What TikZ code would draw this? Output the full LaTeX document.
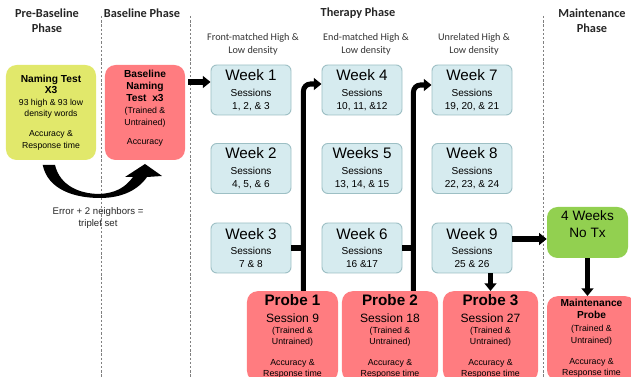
\documentclass[tikz,border=0pt]{standalone}
\usepackage{fontspec}
\setmainfont{Liberation Sans}
\newfontfamily\calfont{Carlito}
\usetikzlibrary{arrows.meta,calc}
\definecolor{weekfill}{HTML}{D6EBEF}
\definecolor{weekline}{HTML}{9DBFC4}
\definecolor{probefill}{HTML}{FF7C80}
\definecolor{namefill}{HTML}{E1E86B}
\definecolor{notxfill}{HTML}{92D050}
\begin{document}
\begin{tikzpicture}
        [x=0.03cm, y=-0.03cm,
        header/.style={font=\calfont\bfseries\fontsize{10.5}{12.7}\selectfont, align=center, text=black!85},
        sub/.style={font=\calfont\fontsize{8.7}{11}\selectfont, align=center, text=black!80},
        week/.style={draw=weekline, fill=weekfill, line width=0.8pt, rounded corners=5pt,
            minimum width=2.4cm, minimum height=1.5cm, inner sep=1pt, align=center,
            font=\fontsize{8.6}{11}\selectfont},
        probe/.style={fill=probefill, rounded corners=9pt, anchor=north, inner sep=2.5pt,
            align=center, font=\fontsize{7.5}{9.4}\selectfont},
        bigbox/.style={rounded corners=9pt, inner sep=2pt, align=center,
            font=\fontsize{7.4}{9.8}\selectfont},
        sep/.style={gray, line width=0.6pt, dash pattern=on 2pt off 1.6pt},
        link/.style={line width=4.3pt, black},
        arr/.style={line width=4.3pt, black, -{Triangle[length=6.5pt, width=10pt]}}]

        \clip (0,0) rectangle (631,377);

        % phase titles
        \node[header] (pre) at (47,20.5) {Pre-Baseline\\Phase};
        \node[header] (base) at (142,13) {Baseline Phase};
        \node[header] (ther) at (358,13) {Therapy Phase};
        \node[header] (main) at (592,20.5) {Maintenance\\Phase};

        \node[sub] (s1) at (253,44.5) {Front-matched High \&\\Low density};
        \node[sub] (s2) at (366,44.5) {End-matched High \&\\Low density};
        \node[sub] (s3) at (474,44.5) {Unrelated High \&\\Low density};

        % dotted separators
        \draw[sep] (101,16) -- (101,377);
        \draw[sep] (190,16) -- (190,377);
        \draw[sep] (543,16) -- (543,377);

        % pre-baseline and baseline
        \node[bigbox, fill=namefill, minimum width=2.7cm, minimum height=2.85cm] (nt) at (51,112.5)
            {{\bfseries\fontsize{8.7}{10}\selectfont Naming Test}\\{\bfseries\fontsize{8.7}{10}\selectfont X3}\\
             93 high \& 93 low\\density words\\[7.5pt]Accuracy \&\\Response time};
        \node[bigbox, fill=probefill, minimum width=2.4cm, minimum height=2.85cm, text depth=9pt,
            font=\fontsize{7.5}{10.2}\selectfont] (bl) at (145,112.5)
            {{\bfseries\fontsize{8.7}{10}\selectfont Baseline}\\{\bfseries\fontsize{8.7}{10}\selectfont Naming}\\
             {\bfseries\fontsize{8.7}{10}\selectfont Test\ \ x3}\\(Trained \&\\Untrained)\\[6pt]Accuracy};

        % curved arrow between them
        \fill[black] (42.7,165) .. controls (48,190) and (75,198) .. (100,198)
            .. controls (122,198) and (138,190) .. (147,177) -- (162,176) -- (145,164)
            -- (125,177) -- (133,177) .. controls (125,188) and (115,193) .. (100,194)
            .. controls (80,194) and (60,186) .. (55,165) -- cycle;
        \node[font=\fontsize{8.2}{10.2}\selectfont, align=center, text=black!85] (err) at (98,218)
            {Error + 2 neighbors =\\triplet set};

        % therapy weeks
        \node[week] (w1) at (251,90) {{\fontsize{13}{14}\selectfont Week 1}\\[2.6pt]Sessions\\1, 2, \& 3};
        \node[week] (w2) at (251,168.5) {{\fontsize{13}{14}\selectfont Week 2}\\[2.6pt]Sessions\\4, 5, \& 6};
        \node[week] (w3) at (251,248) {{\fontsize{13}{14}\selectfont Week 3}\\[2.6pt]Sessions\\7 \& 8};
        \node[week] (w4) at (362,90) {{\fontsize{13}{14}\selectfont Week 4}\\[2.6pt]Sessions\\10, 11, \&12};
        \node[week] (w5) at (362,168.5) {{\fontsize{13}{14}\selectfont Weeks 5}\\[2.6pt]Sessions\\13, 14, \& 15};
        \node[week] (w6) at (362,248) {{\fontsize{13}{14}\selectfont Week 6}\\[2.6pt]Sessions\\16 \&17};
        \node[week] (w7) at (472,90) {{\fontsize{13}{14}\selectfont Week 7}\\[2.6pt]Sessions\\19, 20, \& 21};
        \node[week] (w8) at (472,168.5) {{\fontsize{13}{14}\selectfont Week 8}\\[2.6pt]Sessions\\22, 23, \& 24};
        \node[week] (w9) at (472,248) {{\fontsize{13}{14}\selectfont Week 9}\\[2.6pt]Sessions\\25 \& 26};

        % probes
        \node[probe, minimum width=2.73cm] (p1) at (292.5,291)
            {{\bfseries\fontsize{13}{14}\selectfont Probe 1}\\[5pt]{\fontsize{10.3}{12}\selectfont Session 9}\\[0.6pt]
             (Trained \&\\Untrained)\\[8.5pt]Accuracy \&\\Response time};
        \node[probe, minimum width=2.88cm] (p2) at (390,291)
            {{\bfseries\fontsize{13}{14}\selectfont Probe 2}\\[5pt]{\fontsize{10.3}{12}\selectfont Session 18}\\[0.6pt]
             (Trained \&\\Untrained)\\[8.5pt]Accuracy \&\\Response time};
        \node[probe, minimum width=2.85cm] (p3) at (490.5,291)
            {{\bfseries\fontsize{13}{14}\selectfont Probe 3}\\[5pt]{\fontsize{10.3}{12}\selectfont Session 27}\\[0.6pt]
             (Trained \&\\Untrained)\\[8.5pt]Accuracy \&\\Response time};

        % maintenance
        \node[bigbox, fill=notxfill, minimum width=2.43cm, minimum height=1.53cm, text depth=14pt,
            font=\fontsize{11.6}{14.5}\selectfont] (tx) at (587.5,232.5) {4 Weeks\\No Tx};
        \node[probe, minimum width=2.67cm, font=\fontsize{7.5}{9.8}\selectfont] (mp) at (591.5,296)
            {{\bfseries\fontsize{8.7}{10}\selectfont Maintenance}\\[0.5pt]{\bfseries\fontsize{8.7}{10}\selectfont Probe}\\[1.5pt]
             (Trained \&\\Untrained)\\[8pt]Accuracy \&\\Response time};

        % arrows
        \coordinate (in1) at ($(w1.west)+(0,-8)$);
        \coordinate (out1) at ($(bl.east)+(3,0)$);
        \draw[arr] (out1 |- in1) -- (in1);

        \coordinate (j1) at ($(w3.east)+(12,0)$);
        \coordinate (in4) at ($(w4.west)+(0,-6)$);
        \draw[link] (w3.east) -- (j1);
        \draw[arr, rounded corners=6pt] (j1 |- p1.north) -- (j1 |- in4) -- (in4);

        \coordinate (j2) at ($(w6.east)+(11,0)$);
        \coordinate (in7) at ($(w7.west)+(0,-5)$);
        \draw[link] (w6.east) -- (j2);
        \draw[arr, rounded corners=6pt] (j2 |- p2.north) -- (j2 |- in7) -- (in7);

        \draw[arr] (p3.north |- w9.south) -- (p3.north);
        \coordinate (out9) at ($(w9.east)+(0,-9)$);
        \draw[arr] (out9) -- (out9 -| tx.west);
        \draw[arr] (tx.south) -- (tx.south |- mp.north);

    \end{tikzpicture}
\end{document}
